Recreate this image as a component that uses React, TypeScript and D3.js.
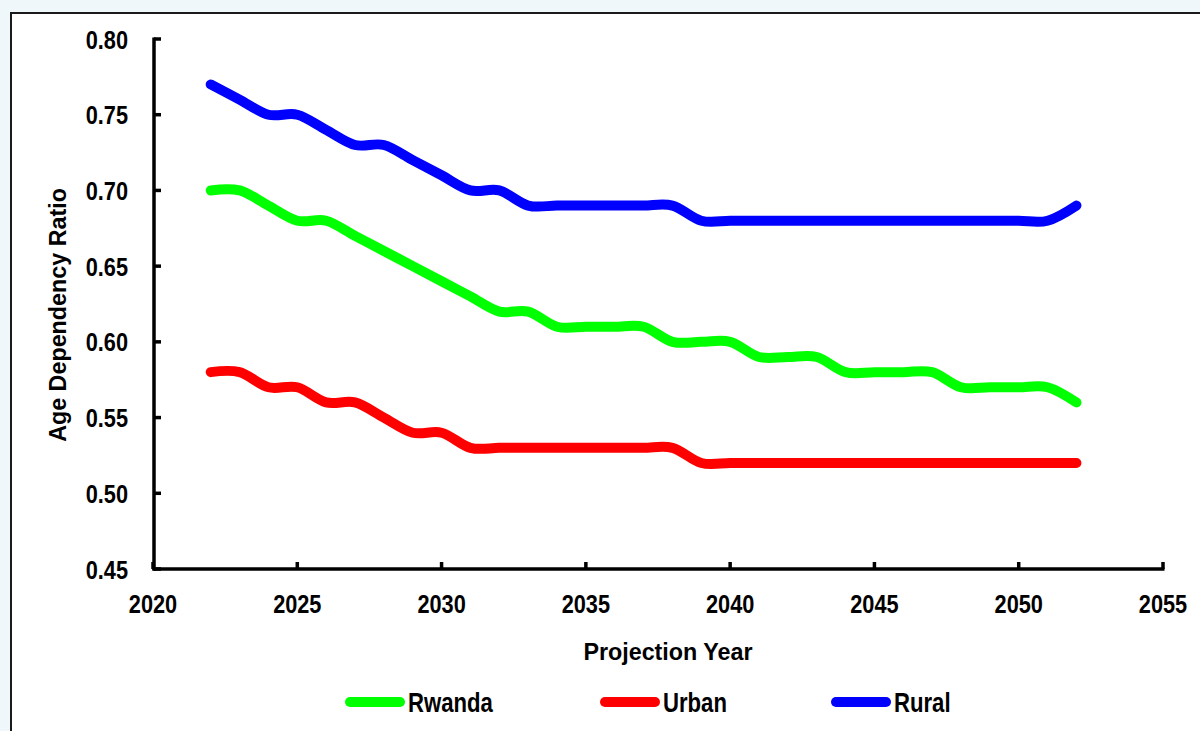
import React from "react";
import * as d3 from "d3";

const years = [2022, 2023, 2024, 2025, 2026, 2027, 2028, 2029, 2030, 2031, 2032, 2033, 2034, 2035, 2036, 2037, 2038, 2039, 2040, 2041, 2042, 2043, 2044, 2045, 2046, 2047, 2048, 2049, 2050, 2051, 2052];
const rwanda = [0.70, 0.70, 0.69, 0.68, 0.68, 0.67, 0.66, 0.65, 0.64, 0.63, 0.62, 0.62, 0.61, 0.61, 0.61, 0.61, 0.60, 0.60, 0.60, 0.59, 0.59, 0.59, 0.58, 0.58, 0.58, 0.58, 0.57, 0.57, 0.57, 0.57, 0.56];
const urban = [0.58, 0.58, 0.57, 0.57, 0.56, 0.56, 0.55, 0.54, 0.54, 0.53, 0.53, 0.53, 0.53, 0.53, 0.53, 0.53, 0.53, 0.52, 0.52, 0.52, 0.52, 0.52, 0.52, 0.52, 0.52, 0.52, 0.52, 0.52, 0.52, 0.52, 0.52];
const rural = [0.77, 0.76, 0.75, 0.75, 0.74, 0.73, 0.73, 0.72, 0.71, 0.70, 0.70, 0.69, 0.69, 0.69, 0.69, 0.69, 0.69, 0.68, 0.68, 0.68, 0.68, 0.68, 0.68, 0.68, 0.68, 0.68, 0.68, 0.68, 0.68, 0.68, 0.69];
const xTicks = [2020, 2025, 2030, 2035, 2040, 2045, 2050, 2055];
const yTicks = [0.45, 0.50, 0.55, 0.60, 0.65, 0.70, 0.75, 0.80];
const seriesNames = ["Rwanda", "Urban", "Rural"];
const seriesColors = ["#00ff00", "#ff0000", "#0000ff"];
const seriesValues = [rwanda, urban, rural];

const W = 1200;
const H = 731;
const font = "'Liberation Sans', Arial, sans-serif";
const NARROW = 0.82;

export default function App() {
  const x = d3.scaleLinear().domain([2020, 2055]).range([153, 1163]);
  const y = d3.scaleLinear().domain([0.45, 0.8]).range([569, 39]);
  const line = d3
    .line<number>()
    .x((_, i) => x(years[i]))
    .y((d) => y(d))
    .curve(d3.curveCatmullRom.alpha(0));

  const legendX = [345, 600, 831];

  return (
    <svg
      width={W}
      height={H}
      style={{ position: "absolute", left: 0, top: 0, display: "block" }}
    >
      <rect x={0} y={0} width={W} height={H} fill="#f0f7fb" />
      <rect x={11} y={13} width={W + 20} height={H + 20} fill="#ffffff" stroke="#1a1a1a" strokeWidth={2} />

      {/* series */}
      {seriesValues.map((vals, si) => (
        <path
          key={seriesNames[si]}
          d={line(vals) || ""}
          fill="none"
          stroke={seriesColors[si]}
          strokeWidth={10}
          strokeLinecap="round"
          strokeLinejoin="round"
        />
      ))}

      {/* y axis */}
      <line x1={154} x2={154} y1={y(0.8) - 1.5} y2={y(0.45) + 1.5} stroke="#000" strokeWidth={3.5} />
      {yTicks.map((t) => (
        <g key={"y" + t}>
          <line x1={154} x2={161} y1={y(t)} y2={y(t)} stroke="#000" strokeWidth={3.5} />
          <text
            transform={`translate(128,${y(t)}) scale(${NARROW},1)`}
            dy="0.36em"
            textAnchor="end"
            fontFamily={font}
            fontWeight="bold"
            fontSize={26.5}
            fill="#000"
          >
            {d3.format(".2f")(t)}
          </text>
        </g>
      ))}

      {/* x axis */}
      <line x1={152.5} x2={x(2055) + 1.5} y1={569} y2={569} stroke="#000" strokeWidth={3.5} />
      {xTicks.map((t) => (
        <g key={"x" + t}>
          <line x1={x(t)} x2={x(t)} y1={569} y2={562} stroke="#000" strokeWidth={3.5} />
          <text
            transform={`translate(${x(t)},613) scale(${NARROW},1)`}
            textAnchor="middle"
            fontFamily={font}
            fontWeight="bold"
            fontSize={26.5}
            fill="#000"
          >
            {t}
          </text>
        </g>
      ))}

      {/* axis titles */}
      <text
        x={668}
        y={660}
        textAnchor="middle"
        fontFamily={font}
        fontWeight="bold"
        fontSize={23.3}
        fill="#000"
      >
        Projection Year
      </text>
      <text
        transform={`translate(66,315) rotate(-90)`}
        textAnchor="middle"
        fontFamily={font}
        fontWeight="bold"
        fontSize={23.3}
        fill="#000"
      >
        Age Dependency Ratio
      </text>

      {/* legend */}
      {seriesNames.map((n, i) => (
        <g key={"lg" + n}>
          <line
            x1={legendX[i] + 5}
            x2={legendX[i] + 55}
            y1={702}
            y2={702}
            stroke={seriesColors[i]}
            strokeWidth={10}
            strokeLinecap="round"
          />
          <text
            transform={`translate(${legendX[i] + 63},712) scale(${NARROW},1)`}
            fontFamily={font}
            fontWeight="bold"
            fontSize={27}
            fill="#000"
          >
            {n}
          </text>
        </g>
      ))}
    </svg>
  );
}
